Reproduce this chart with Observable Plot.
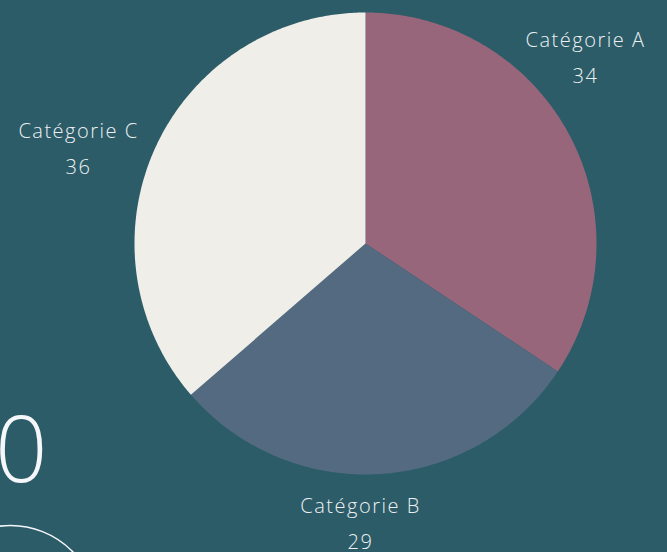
<!DOCTYPE html>
<html><head><meta charset="utf-8">
<script src="https://cdn.jsdelivr.net/npm/d3@7"></script>
<script src="https://cdn.jsdelivr.net/npm/@observablehq/plot@0.6"></script>
<style>
html,body{margin:0;padding:0;background:#2B5C68;overflow:hidden;}
</style></head>
<body><div id="chart"></div>
<script>
// ---- data ----
const categories = ["Catégorie A", "Catégorie B", "Catégorie C"];
const values = [34, 29, 36];
const colors = ["#98667A", "#536A80", "#F0EEE9"];

// ---- layout ----
const W = 667, H = 552;
const cx = 365, cy = 243, R = 231;
const font = "Open Sans, sans-serif";
// label anchor (centre of first text line) for each category, in pixels
const labelXY = {"Catégorie A": [585, 40], "Catégorie B": [360, 506], "Catégorie C": [78, 131]};

const arcs = d3.pie().sort(null)(values);
const pts = [];
arcs.forEach((a, i) => {
  const cat = categories[i];
  pts.push({cat, x: cx, y: cy});
  const n = Math.max(2, Math.ceil((a.endAngle - a.startAngle) / 0.01));
  for (let k = 0; k <= n; k++) {
    const t = a.startAngle + (a.endAngle - a.startAngle) * k / n;
    pts.push({cat, x: cx + R * Math.sin(t), y: cy - R * Math.cos(t)});
  }
  pts.push({cat, x: cx, y: cy});
});
const labels = categories.map((c, i) => ({cat: c, value: values[i], x: labelXY[c][0], y: labelXY[c][1]}));

const chart = Plot.plot({
  width: W, height: H, margin: 0,
  style: {background: "#2B5C68", fontFamily: font},
  x: {domain: [0, W], range: [0, W], axis: null},
  y: {domain: [0, H], range: [0, H], axis: null},
  color: {domain: categories, range: colors},
  marks: [
    Plot.text(["0"], {x: () => 47, y: () => 452, text: d => d, textAnchor: "end", fontSize: 92, fontWeight: 300, fill: "#F5F7FA"}),
    Plot.dot([0], {x: () => 10, y: () => 612, r: 87, stroke: "#F5F7FA", strokeWidth: 1.5, fill: "none"}),
    Plot.line(pts, {x: "x", y: "y", z: "cat", fill: "cat", stroke: null}),
    Plot.text(labels, {x: "x", y: "y", text: "cat", fontSize: 20, fill: "#EEF0F2", fontWeight: 300, style: "letter-spacing:1.5px"}),
    Plot.text(labels, {x: "x", y: d => d.y + 36, text: d => String(d.value), fontSize: 20, fill: "#EEF0F2", fontWeight: 300, style: "letter-spacing:1.5px"})
  ]
});
chart.querySelectorAll("text").forEach(t => { if (t.textContent !== "0") t.style.letterSpacing = "1.5px"; });
document.getElementById("chart").appendChild(chart);
</script>
</body></html>
